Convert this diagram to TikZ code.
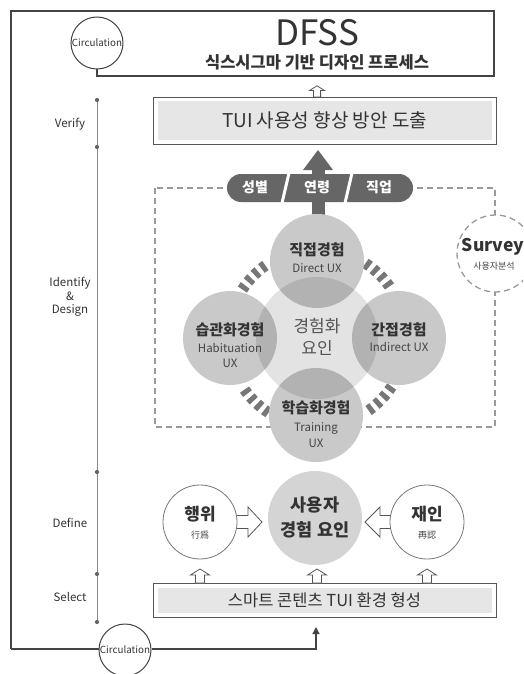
\documentclass[tikz,border=0pt]{standalone}
\usepackage{fontspec}
\setmainfont{Noto Sans CJK KR}
\usetikzlibrary{arrows.meta,calc}
\definecolor{cA}{HTML}{444444}
\definecolor{cB}{HTML}{333333}
\definecolor{cC}{HTML}{555555}
\definecolor{cD}{HTML}{666666}
\definecolor{cE}{HTML}{777777}
\definecolor{cF}{HTML}{999999}
\definecolor{cG}{HTML}{E6E6E6}
\definecolor{cH}{HTML}{D4D4D4}
\definecolor{cI}{HTML}{888888}
\tikzset{
  frameline/.style={draw=cA, line width=1.3pt},
  circbox/.style={circle, draw=cA, line width=1pt, fill=white, inner sep=0pt, minimum size=52pt, font=\fontsize{9.8}{11}\selectfont, text=cB},
  lbl/.style={font=\fontsize{11.5}{13}\selectfont, text=cB, align=center},
  hollow/.style={draw=cC, line width=0.8pt, fill=white, line join=miter},
  insetbox/.style={draw=cC, line width=0.9pt, fill=white, inner sep=0pt,
    path picture={\fill[cG] ($(path picture bounding box.south west)+(4.5,-4.5)$) rectangle ($(path picture bounding box.north east)+(-4.5,4.5)$);}},
  dashline/.style={draw=cF, line width=1.3pt, dash pattern=on 6pt off 4pt},
  stripes/.style={draw=cE, line width=11pt, dash pattern=on 5pt off 4.5pt},
  ctitle/.style={font=\bfseries\fontsize{15}{17}\selectfont, text=cB},
  csub/.style={font=\fontsize{11.5}{13}\selectfont, text=cA},
  pilltext/.style={font=\bfseries\fontsize{14}{16}\selectfont, text=white}
}
\newcommand\uphollow[3]{% x, y-bottom, scale
  \draw[hollow] (#1-4.5*#3,#2) -- (#1-4.5*#3,#2-8*#3) -- (#1-9.5*#3,#2-8*#3) -- (#1,#2-14*#3) -- (#1+9.5*#3,#2-8*#3) -- (#1+4.5*#3,#2-8*#3) -- (#1+4.5*#3,#2) -- cycle;}
\begin{document}
\begin{tikzpicture}[x=1pt,y=-1pt]
\useasboundingbox (0,0) rectangle (523,674);
\clip (0,0) rectangle (523,674);
\fill[white] (0,0) rectangle (523,674);

% ---------- top frame ----------
\coordinate (frTL) at (11,11);
\coordinate (frTR) at (494,11);
\coordinate (frBR) at (494,76);
\coordinate (frBL) at (11,649);
\node[circbox] (circTop) at (97,43) {Circulation};
\draw[frameline] (circTop.south) |- (frBR) -- (frTR) -- (frTL) -- (frBL);
\node[font=\fontsize{35}{36}\selectfont, text=cB] (dfss) at (317,33) {DFSS};
\node[font=\bfseries\fontsize{16.5}{18}\selectfont, text=cB] (dfsssub) at (317,62) {식스시그마 기반 디자인 프로세스};

% ---------- timeline ----------
\draw[cI, line width=0.8pt] (97,100) -- (97,622);
\foreach \yy in {100,147,472,574,622} \fill[cD] (97,\yy) circle (2.1pt);
\node[lbl] (lverify) at (70,124) {Verify};
\node[lbl, font=\fontsize{11.5}{13.5}\selectfont] (lident) at (70,297) {Identify\\\&\\Design};
\node[lbl] (ldefine) at (70,523) {Define};
\node[lbl] (lselect) at (70,597) {Select};

% ---------- TUI box ----------
\node[insetbox, minimum width=343pt, minimum height=47pt] (tui) at (324.5,120.5) {};
\node[font=\fontsize{19}{21}\selectfont, text=cB] (tuitext) at (tui) {TUI 사용성 향상 방안 도출};
\uphollow{317}{97}{0.8}

% ---------- dashed box and survey ----------
\draw[dashline] (155,188) rectangle (495,427);
\node[circle, dashline, fill=white, minimum size=77pt, inner sep=0pt] (survey) at (495.5,253.5) {};
\node[font=\bfseries\fontsize{17.5}{20}\selectfont, text=cB] (survt) at (493,247) {Survey};
\node[font=\fontsize{9}{10}\selectfont, text=cA] (survs) at (494,266) {사용자분석};

% ---------- dark arrow and pill ----------
\fill[cD] (311.5,170) rectangle (324.5,220);
\fill[cD] (303,170) -- (318,150) -- (333,170) -- cycle;
\node[fill=cD, rounded corners=14pt, minimum width=186pt, minimum height=28pt, inner sep=0pt] (pill) at (320,188) {};
\draw[white, line width=3pt] (282,203) -- (289,173);
\draw[white, line width=3pt] (345,203) -- (352,173);
\node[pilltext] (p1) at (255,187) {성별};
\node[pilltext] (p2) at (317,187) {연령};
\node[pilltext] (p3) at (379,187) {직업};

% ---------- stripes ----------
\coordinate (cc) at (317,338);
\foreach \a in {45,135,225,315}
  \draw[stripes] (cc) ++(\a-12:89) arc[start angle=\a-12, end angle=\a+12, radius=89];

% ---------- experience circles ----------
\coordinate (ctop) at (317,261);
\coordinate (cleft) at (230,338);
\coordinate (cright) at (399,338);
\coordinate (cbot) at (316,415);
\foreach \p in {ctop,cleft,cright,cbot} \fill[white] (\p) circle (47);
\fill[white] (cc) circle (61);
\foreach \p in {ctop,cleft,cright,cbot} \fill[black, fill opacity=0.21] (\p) circle (47);
\fill[black, fill opacity=0.11] (cc) circle (61);

\node[ctitle] (t1) at (317,250) {직접경험};
\node[csub] (t1s) at (317,268) {Direct UX};
\node[ctitle] (t2) at (230,330) {습관화경험};
\node[csub, align=center, font=\fontsize{11.5}{15}\selectfont] (t2s) at (230,355) {Habituation\\UX};
\node[ctitle] (t3) at (399,330) {간접경험};
\node[csub] (t3s) at (399,347) {Indirect UX};
\node[ctitle] (t4) at (316,408) {학습화경험};
\node[csub, align=center, font=\fontsize{11.5}{16}\selectfont] (t4s) at (316,435) {Training\\UX};
\node[font=\fontsize{17}{22}\selectfont, text=cC, align=center] (tc) at (317,337) {경험화\\요인};

% ---------- define row ----------
\draw[hollow] (225,515.5) -- (248,515.5) -- (248,507) -- (262,522) -- (248,537) -- (248,528.5) -- (225,528.5) -- cycle;
\draw[hollow] (402,515.5) -- (380,515.5) -- (380,507) -- (365,522) -- (380,537) -- (380,528.5) -- (402,528.5) -- cycle;
\node[circle, draw=cE, line width=0.8pt, fill=white, minimum size=74pt, inner sep=0pt] (haeng) at (200,522) {};
\node[circle, draw=cE, line width=0.8pt, fill=white, minimum size=74pt, inner sep=0pt] (jaein) at (427,522) {};
\node[circle, fill=cH, minimum size=94pt, inner sep=0pt] (user) at (315,518) {};
\node[font=\bfseries\fontsize{17}{19}\selectfont, text=cB] (h1) at (200,514) {행위};
\node[font=\fontsize{9}{10}\selectfont, text=cA] (h2) at (200,535) {行爲};
\node[font=\bfseries\fontsize{17}{19}\selectfont, text=cB] (j1) at (427,514) {재인};
\node[font=\fontsize{9}{10}\selectfont, text=cA] (j2) at (427,535) {再認};
\node[font=\bfseries\fontsize{17.5}{25}\selectfont, text=cB, align=center] (u1) at (315,517) {사용자\\경험 요인};

% ---------- select row ----------
\node[insetbox, minimum width=343pt, minimum height=34pt] (env) at (324.5,600) {};
\node[font=\fontsize{16.5}{18}\selectfont, text=cB] (envtext) at (env) {스마트 콘텐츠 TUI 환경 형성};
\uphollow{200}{583}{1}
\uphollow{317}{583}{1}
\uphollow{427}{583}{1}

% ---------- bottom circulation ----------
\node[circbox] (circBot) at (125,650) {Circulation};
\coordinate (retTurn) at (316,649);
\coordinate (retTip) at (316,627);
\draw[frameline] (frBL) -- (circBot.west |- frBL);
\draw[frameline, -{Triangle[length=7pt,width=7pt]}] (circBot.east |- retTurn) -- (retTurn) -- (retTip);
\end{tikzpicture}
\end{document}
